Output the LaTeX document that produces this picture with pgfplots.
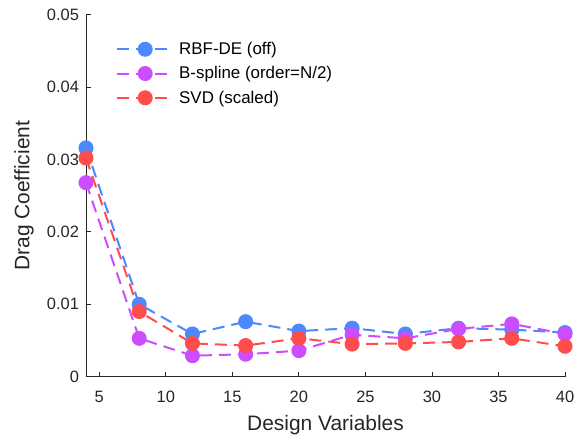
\documentclass[border=0pt]{standalone}
\usepackage{fontspec}
\setmainfont{Liberation Sans}
\usepackage{pgfplots}
\pgfplotsset{compat=1.18}
\definecolor{cblue}{RGB}{77,136,255}
\definecolor{cpurple}{RGB}{204,77,255}
\definecolor{cred}{RGB}{255,77,77}
\definecolor{axgray}{RGB}{38,38,38}
\tikzset{myline/.style={line width=2bp, dash pattern=on 12bp off 7bp, mark=*, mark size=6.5bp, mark options={solid, fill=#1, draw=#1}, color=#1}}
\begin{document}
\begin{tikzpicture}
\begin{axis}[
  scale only axis,
  width=479bp, height=362bp,
  xmin=4, xmax=40, ymin=0, ymax=0.05,
  axis lines*=left,
  axis line style={-, draw=axgray, line width=0.8bp},
  every tick/.style={draw=axgray, line width=0.8bp},
  tick align=inside,
  major tick length=5bp,
  xtick={5,10,...,40},
  ytick={0,0.01,0.02,0.03,0.04,0.05},
  scaled y ticks=false,
  /pgf/number format/assume math mode=true,
  yticklabel style={/pgf/number format/fixed, /pgf/number format/precision=2, xshift=-3.5bp},
  xticklabel style={yshift=-11bp},
  tick label style={font=\fontsize{16.5}{20}\selectfont, text=axgray},
  xlabel={Design Variables},
  ylabel={Drag Coefficient},
  label style={font=\fontsize{21}{25}\selectfont, text=axgray},
  xlabel style={at={(axis description cs:0.5,0)}, anchor=center, yshift=-48bp},
  ylabel style={at={(axis description cs:0,0.5)}, anchor=center, rotate=0, yshift=62bp},
  legend style={at={(axis description cs:0,1)}, anchor=north west, xshift=27bp, yshift=-23.5bp,
    draw=none, fill=none, font=\fontsize{17}{20}\selectfont, text=black, row sep=6.5bp},
  legend cell align=left,
  legend image code/.code={\draw[mark repeat=2, mark phase=2, #1] plot coordinates {(0bp,0bp) (28bp,0bp) (56bp,0bp)}; \path (59bp,0bp);},
]
\addplot[myline=cblue] coordinates {
(4,0.0316) (8,0.0100) (12,0.0059) (16,0.0076) (20,0.0063) (24,0.0067) (28,0.0059) (32,0.0067) (36,0.0065) (40,0.0061)};
\addlegendentry{RBF-DE (off)}
\addplot[myline=cpurple] coordinates {
(4,0.0268) (8,0.0053) (12,0.0029) (16,0.0031) (20,0.0036) (24,0.0058) (28,0.0053) (32,0.0066) (36,0.0073) (40,0.0059)};
\addlegendentry{B-spline (order=N/2)}
\addplot[myline=cred] coordinates {
(4,0.0302) (8,0.0090) (12,0.0046) (16,0.0043) (20,0.0053) (24,0.0045) (28,0.0046) (32,0.0048) (36,0.0053) (40,0.0042)};
\addlegendentry{SVD (scaled)}
\end{axis}
\pgfresetboundingbox
\path (current axis.south west) ++(-86bp,-65.3bp) rectangle ++(581bp,442bp);
\end{tikzpicture}
\end{document}
